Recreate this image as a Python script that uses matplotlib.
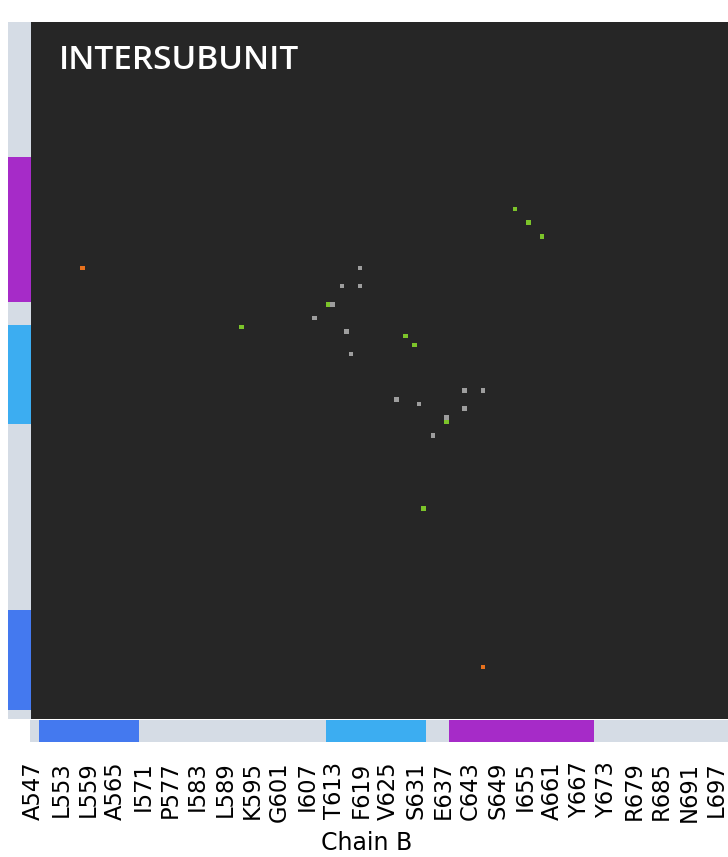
import numpy as np
import matplotlib
matplotlib.use("Agg")
import matplotlib.pyplot as plt
from matplotlib.colors import ListedColormap
from matplotlib.transforms import ScaledTranslation

# Residue range shared by both chains (homodimer)
first_residue = 547
n_residues = 154

tick_labels = ["A547", "L553", "L559", "A565", "I571", "P577", "I583", "L589",
               "K595", "G601", "I607", "T613", "F619", "V625", "S631", "E637",
               "C643", "S649", "I655", "A661", "Y667", "Y673", "R679", "R685",
               "N691", "L697"]
tick_step = 6

# Secondary-structure segments: (start residue, end residue exclusive, kind)
segments = [(549, 571, "helix1"), (612, 634, "helix2"), (639, 671, "helix3")]
segment_colors = {"coil": "#d5dce5", "helix1": "#4479ef",
                  "helix2": "#3cadf1", "helix3": "#a62bc8"}

# Inter-subunit contacts: chain B residue, chain A residue, contact class
contact_b = [558, 646, 593, 633, 653, 656, 659, 612, 638, 629, 631,
             619, 646, 615, 642, 619, 642, 613, 638, 609, 635, 616, 632, 617, 627]
contact_a = [646, 558, 633, 593, 659, 656, 653, 638, 612, 631, 629,
             646, 619, 642, 615, 642, 619, 638, 613, 635, 609, 632, 616, 627, 617]
contact_kind = ["salt", "salt",
                "hbond", "hbond", "hbond", "hbond", "hbond", "hbond", "hbond",
                "hbond", "hbond",
                "vdw", "vdw", "vdw", "vdw", "vdw", "vdw", "vdw", "vdw",
                "vdw", "vdw", "vdw", "vdw", "vdw", "vdw"]

kind_codes = {"none": 0, "vdw": 1, "hbond": 2, "salt": 3}
contact_cmap = ListedColormap(["#262626", "#9e9e9e", "#7cc42a", "#e8711d"])

# Build contact matrix (rows = chain A, columns = chain B)
matrix = np.zeros((n_residues, n_residues), dtype=int)
for b, a, k in zip(contact_b, contact_a, contact_kind):
    matrix[a - first_residue, b - first_residue] = kind_codes[k]

# Secondary-structure track
seg_names = ["coil", "helix1", "helix2", "helix3"]
track = np.zeros(n_residues, dtype=int)
for s, e, kind in segments:
    track[s - first_residue:e - first_residue] = seg_names.index(kind)
track_cmap = ListedColormap([segment_colors[n] for n in seg_names])

W, H = 728, 857
fig = plt.figure(figsize=(W / 100, H / 100), dpi=100)

left, top, bottom = 30, 22, 719.5
height = bottom - top
width = 4.55 * n_residues
bar = 22.5

ax = fig.add_axes([left / W, (H - bottom) / H, width / W, height / H])
ax.imshow(matrix, cmap=contact_cmap, vmin=0, vmax=3, origin="lower",
          interpolation="nearest", aspect="auto",
          extent=(-0.5, n_residues - 0.5, -0.5, n_residues - 0.5))
ax.set_axis_off()

ax_left = fig.add_axes([(left - bar) / W, (H - bottom) / H, bar / W, height / H])
ax_left.imshow(track[:, None], cmap=track_cmap, vmin=0, vmax=3, origin="lower",
               interpolation="nearest", aspect="auto",
               extent=(-0.5, 0.5, -0.5, n_residues - 0.5))
ax_left.set_axis_off()

ax_bot = fig.add_axes([left / W, (H - bottom - bar) / H, width / W, bar / H])
ax_bot.imshow(track[None, :], cmap=track_cmap, vmin=0, vmax=3, origin="lower",
              interpolation="nearest", aspect="auto",
              extent=(-0.5, n_residues - 0.5, -0.5, 0.5))
for sp in ax_bot.spines.values():
    sp.set_visible(False)
ax_bot.set_yticks([])
ax_bot.set_xticks(np.arange(0, len(tick_labels) * tick_step, tick_step))
ax_bot.set_xticklabels(tick_labels, rotation=90, fontsize=16.3,
                       family="DejaVu Sans")
ax_bot.tick_params(axis="x", length=0, pad=14)
nudge = ScaledTranslation(1.5 / 100, 0, fig.dpi_scale_trans)
for lab in ax_bot.get_xticklabels():
    lab.set_transform(lab.get_transform() + nudge)

fig.text(367 / W, 1 - 831 / H, "Chain B", ha="center", va="top",
         fontsize=17, family="DejaVu Sans")

fig.text(59 / W, 1 - 68.7 / H, "INTERSUBUNIT", ha="left", va="baseline",
         fontsize=24, family="Open Sans", weight="semibold", color="white")

fig.savefig("out.png", dpi=100)
